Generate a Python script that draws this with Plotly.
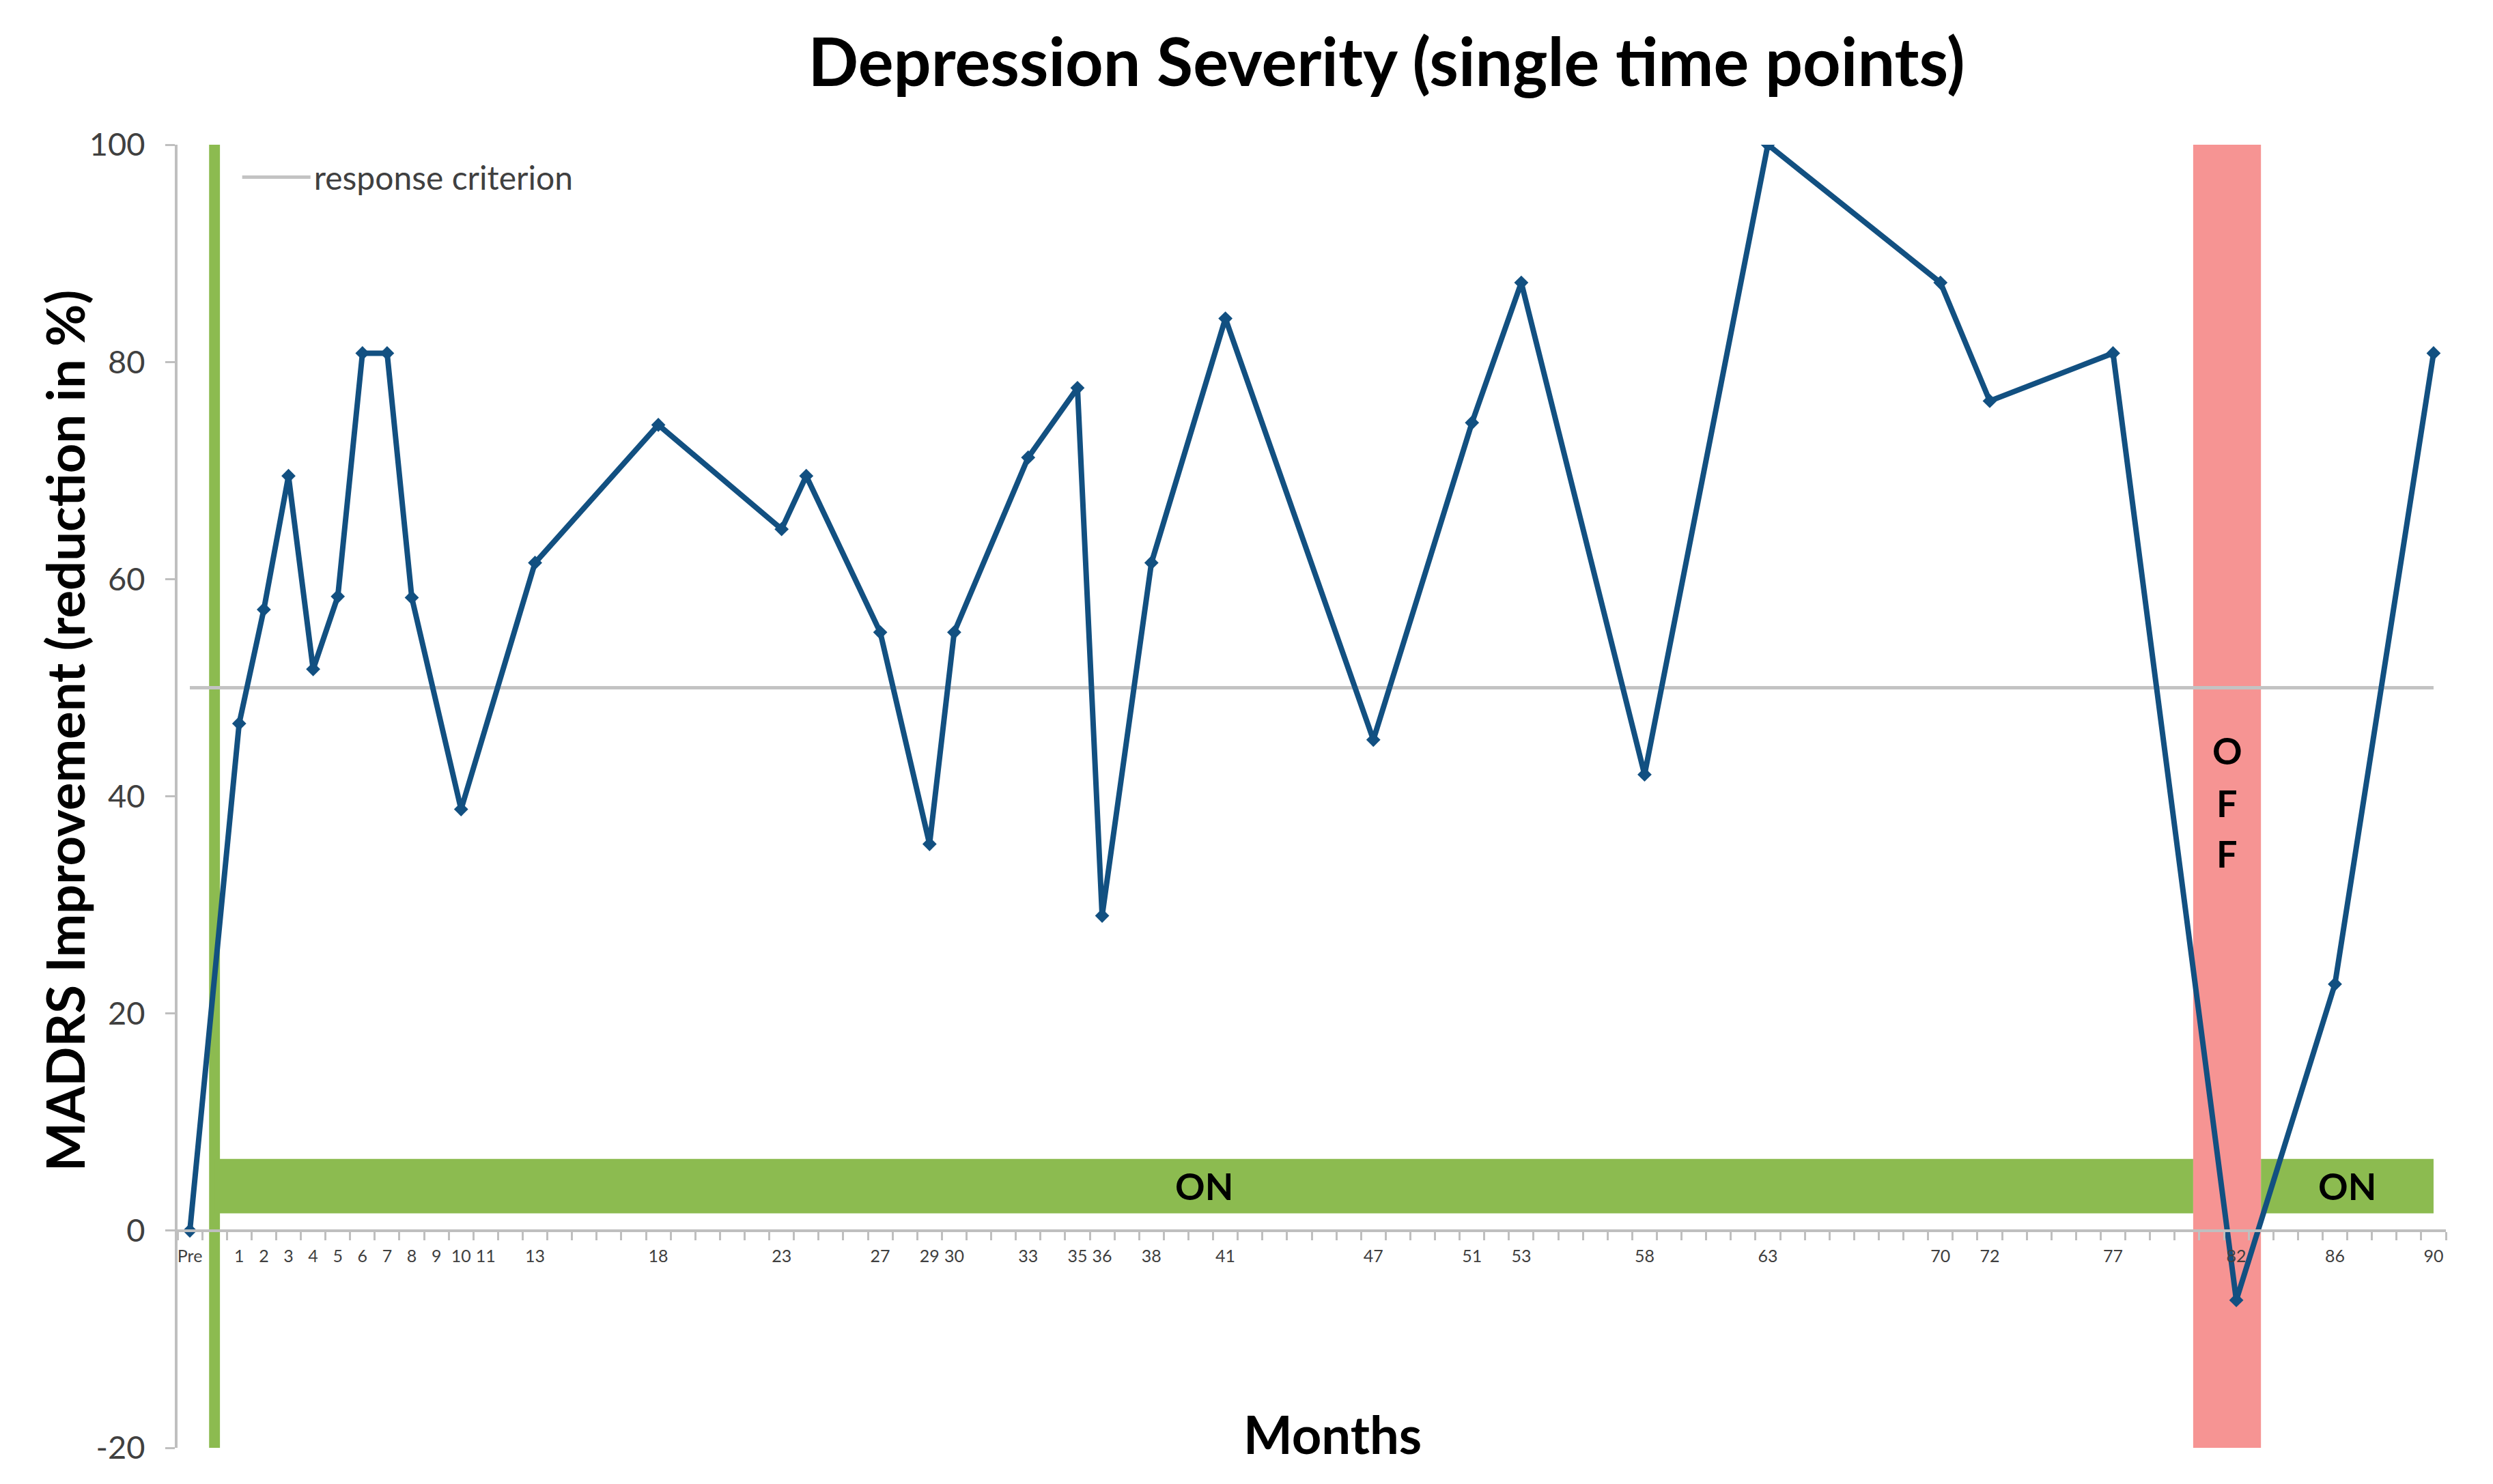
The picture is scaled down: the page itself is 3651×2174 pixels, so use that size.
import plotly.graph_objects as go

# ---- data ----
months = [-1, 1, 2, 3, 4, 5, 6, 7, 8, 10, 13, 18, 23, 24, 27, 29, 30, 33, 35, 36,
          38, 41, 47, 51, 53, 58, 63, 70, 72, 77, 82, 86, 90]
improvement = [0, 46.7, 57.2, 69.5, 51.7, 58.4, 80.8, 80.8, 58.3, 38.8, 61.5, 74.2,
               64.6, 69.5, 55.1, 35.6, 55.1, 71.2, 77.6, 29.0, 61.5, 84.0, 45.2, 74.4,
               87.3, 42.0, 100.0, 87.3, 76.4, 80.8, -6.4, 22.7, 80.8]

tick_months = [-1, 1, 2, 3, 4, 5, 6, 7, 8, 9, 10, 11, 13, 18, 23, 27, 29, 30, 33, 35,
               36, 38, 41, 47, 51, 53, 58, 63, 70, 72, 77, 82, 86, 90]
tick_labels = ["Pre"] + [str(m) for m in tick_months[1:]]

y_ticks = [-20, 0, 20, 40, 60, 80, 100]
y_tick_labels = ["-20", "0", "20", "40", "60", "80", "100"]

criterion_x = [-1, 90]
criterion_y = [50, 50]

stim_start = 0                # month stimulation started (green vertical bar)
off_period = [80.25, 83.0]    # OFF interval (red band)
on_band_y = [1.6, 6.6]
x_range = [-1.5, 90.5]
y_range = [-20, 100]

BLUE = "#125081"
GREEN = "#8CBB50"
RED = "#F69493"
AXIS = "#BFBFBF"
FONT = "Lato"

fig = go.Figure()

fig.add_trace(go.Scatter(
    x=criterion_x, y=criterion_y, mode="lines", name="response criterion",
    line=dict(color="#C3C3C3", width=5), hoverinfo="skip"))

fig.add_trace(go.Scatter(
    x=months, y=improvement, mode="lines+markers", showlegend=False,
    line=dict(color=BLUE, width=8),
    marker=dict(symbol="diamond", size=16, color=BLUE)))

shapes = [
    dict(type="rect", xref="x", yref="y", x0=stim_start - 0.22, x1=stim_start + 0.22,
         y0=y_range[0], y1=y_range[1], fillcolor=GREEN, line=dict(width=0), layer="below"),
    dict(type="rect", xref="x", yref="y", x0=off_period[0], x1=off_period[1],
         y0=y_range[0], y1=y_range[1], fillcolor=RED, line=dict(width=0), layer="below"),
    dict(type="rect", xref="x", yref="y", x0=stim_start, x1=off_period[0],
         y0=on_band_y[0], y1=on_band_y[1], fillcolor=GREEN, line=dict(width=0), layer="below"),
    dict(type="rect", xref="x", yref="y", x0=off_period[1], x1=90,
         y0=on_band_y[0], y1=on_band_y[1], fillcolor=GREEN, line=dict(width=0), layer="below"),
]

on_mid = sum(on_band_y) / 2
annotations = [
    dict(x=(stim_start + off_period[0]) / 2, y=on_mid, text="<b>ON</b>", showarrow=False,
         font=dict(family=FONT, size=54, color="black"), xref="x", yref="y"),
    dict(x=(off_period[1] + 90) / 2, y=on_mid, text="<b>ON</b>", showarrow=False,
         font=dict(family=FONT, size=54, color="black"), xref="x", yref="y"),
    # axis titles placed as in the original
    dict(x=-0.050, xref="paper", y=0.5505, yref="paper",
         text="<b>MADRS Improvement (reduction in %)</b>",
         textangle=-90, showarrow=False, xanchor="center", yanchor="middle",
         font=dict(family=FONT, size=76, color="black")),
    dict(x=0.5093, xref="paper", y=0.0109, yref="paper", text="<b>Months</b>",
         showarrow=False, xanchor="center", yanchor="middle",
         font=dict(family=FONT, size=76, color="black")),
]
for letter, yy in zip(["O", "F", "F"], [44.2, 39.4, 34.7]):
    annotations.append(dict(x=sum(off_period) / 2, y=yy, text="<b>%s</b>" % letter,
                            showarrow=False, xref="x", yref="y",
                            font=dict(family=FONT, size=54, color="black")))

minor_vals = [x_range[0] + i for i in range(int(x_range[1] - x_range[0]) + 1)]

fig.update_layout(
    width=3651, height=2174,
    paper_bgcolor="white", plot_bgcolor="white",
    margin=dict(l=252, r=77, t=204, b=61),
    title=dict(text="<b>Depression Severity (single time points)</b>",
               x=0.554, xanchor="center", y=0.9615, yanchor="middle",
               font=dict(family=FONT, size=97, color="black")),
    shapes=shapes, annotations=annotations,
    showlegend=True,
    legend=dict(x=0.027, y=0.975, xanchor="left", yanchor="middle",
                bgcolor="rgba(0,0,0,0)", itemwidth=100,
                font=dict(family=FONT, size=48, color="#404040")),
    xaxis=dict(range=x_range, anchor="free",
               position=(0 - y_range[0]) / (y_range[1] - y_range[0]),
               tickmode="array", tickvals=tick_months, ticktext=tick_labels,
               ticks="outside", ticklen=14, tickcolor="rgba(0,0,0,0)",
               tickfont=dict(family=FONT, size=25, color="#404040"),
               showline=True, linecolor=AXIS, linewidth=4,
               showgrid=False, zeroline=False,
               minor=dict(tickvals=minor_vals, ticks="outside", ticklen=12,
                          tickcolor=AXIS, tickwidth=3, showgrid=False)),
    yaxis=dict(range=y_range, tickmode="array", tickvals=y_ticks, ticktext=y_tick_labels,
               ticks="outside", ticklen=14, tickcolor=AXIS, tickwidth=3,
               ticklabelstandoff=20,
               tickfont=dict(family=FONT, size=47, color="#404040"),
               showline=True, linecolor=AXIS, linewidth=4,
               showgrid=False, zeroline=False),
)

fig.write_html("out.html")
